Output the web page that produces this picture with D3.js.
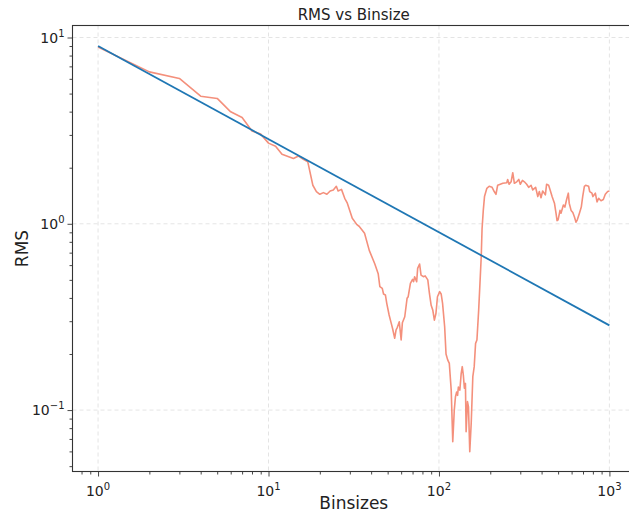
<!DOCTYPE html>
<html>
<head>
<meta charset="utf-8">
<script src="https://cdn.jsdelivr.net/npm/d3@7"></script>
<style>
  body { margin: 0; background: #fff; }
  svg { font-family: "DejaVu Sans", sans-serif; }
</style>
</head>
<body>
<svg id="chart" width="629" height="516"></svg>
<script>
// fitted power law, only its two end points
var fitX = [1, 1000];
var fitY = [9.0, 0.285];

var binX = [1, 2, 3, 4, 5, 6, 7, 8, 9, 10, 11, 12, 14, 15, 16, 17, 18.2, 19.1, 20, 21, 22, 23, 24, 25, 25.6, 26.8, 28, 29, 31, 33, 34, 36.6, 39, 42, 44, 45, 46.5, 47.3, 48.5, 49.4, 51, 52.5, 53.4, 55, 56, 57, 58.5, 60, 61, 63, 65, 66, 68, 70, 71, 72, 74, 75, 77, 78.5, 81, 83, 86, 88, 90, 92, 94, 96, 98, 101, 103, 105, 108, 110, 112.5, 115, 118, 120.5, 123, 125, 127, 128.6, 130, 132.6, 135, 137, 139, 141, 143, 144.3, 147, 149, 151.6, 154.6, 158, 161, 164, 167, 171, 174, 177, 179, 182, 185, 191, 197, 205, 211, 216, 221, 229, 237, 250, 253, 258, 265, 271, 277, 286, 294, 300, 309, 317, 327, 336, 347, 355, 369, 380, 388, 397, 406, 421, 428, 440, 449, 461, 476, 486, 493, 500, 513, 520, 537, 548, 561, 574, 581, 596, 610, 623, 637, 648, 667, 684, 697, 713, 725, 755, 766, 790, 800, 827, 846, 865, 893, 921, 946, 977, 1000];
var binY = [8.9, 6.54, 6.03, 4.84, 4.71, 3.99, 3.72, 3.15, 3.03, 2.71, 2.61, 2.36, 2.24, 2.31, 2.22, 2.15, 1.61, 1.49, 1.44, 1.47, 1.44, 1.50, 1.52, 1.59, 1.50, 1.53, 1.37, 1.29, 1.07, 0.99, 0.97, 0.89, 0.72, 0.61, 0.54, 0.46, 0.45, 0.42, 0.415, 0.374, 0.324, 0.292, 0.275, 0.243, 0.269, 0.278, 0.298, 0.238, 0.294, 0.317, 0.398, 0.406, 0.479, 0.503, 0.489, 0.52, 0.489, 0.576, 0.608, 0.53, 0.52, 0.525, 0.5, 0.42, 0.365, 0.344, 0.304, 0.33, 0.406, 0.432, 0.42, 0.374, 0.28, 0.2, 0.186, 0.178, 0.128, 0.0677, 0.1, 0.118, 0.125, 0.12, 0.133, 0.128, 0.157, 0.171, 0.154, 0.131, 0.139, 0.0766, 0.111, 0.104, 0.0598, 0.085, 0.151, 0.171, 0.228, 0.238, 0.344, 0.479, 0.665, 0.94, 1.18, 1.40, 1.55, 1.59, 1.57, 1.49, 1.44, 1.61, 1.63, 1.65, 1.66, 1.73, 1.63, 1.68, 1.88, 1.65, 1.68, 1.73, 1.63, 1.71, 1.68, 1.63, 1.57, 1.61, 1.52, 1.57, 1.40, 1.49, 1.38, 1.50, 1.43, 1.63, 1.61, 1.52, 1.40, 1.29, 1.14, 1.04, 1.05, 1.18, 1.14, 1.26, 1.23, 1.35, 1.46, 1.29, 1.18, 1.15, 1.09, 1.02, 1.05, 1.14, 1.23, 1.40, 1.59, 1.61, 1.59, 1.49, 1.46, 1.40, 1.46, 1.31, 1.37, 1.33, 1.35, 1.44, 1.49, 1.50];

var xTicks = [1, 10, 100, 1000];
var yTicks = [0.1, 1, 10];
var xTickExp = ["0", "1", "2", "3"];
var yTickExp = ["\u22121", "0", "1"];

var svg = d3.select('#chart');
var margin = {left: 72.5, top: 25.5, right: 635, bottom: 471.5};

var x = d3.scaleLog().domain([0.708, 1413]).range([margin.left, margin.right]);
var y = d3.scaleLog().domain([0.0468, 11.6]).range([margin.bottom, margin.top]);

var clipper = svg.append('clipPath').attr('id', 'plotclip')
  .append('rect').attr('x', margin.left).attr('y', margin.top)
  .attr('width', margin.right - margin.left).attr('height', margin.bottom - margin.top);

// grid
var grid = svg.append('g');
grid.selectAll('.gx').data(xTicks).enter().append('line')
  .attr('x1', function(d){return x(d)}).attr('x2', function(d){return x(d)})
  .attr('y1', margin.top).attr('y2', margin.bottom)
  .attr('stroke', '#dddddd').attr('stroke-width', 0.8).attr('stroke-dasharray', '4,3');
grid.selectAll('.gy').data(yTicks).enter().append('line')
  .attr('y1', function(d){return y(d)}).attr('y2', function(d){return y(d)})
  .attr('x1', margin.left).attr('x2', margin.right)
  .attr('stroke', '#dddddd').attr('stroke-width', 0.8).attr('stroke-dasharray', '4,3');

var plot = svg.append('g').attr('clip-path', 'url(#plotclip)');

var line = d3.line().x(function(d){return x(d[0])}).y(function(d){return y(d[1])});

plot.append('path').datum(d3.zip(binX, binY))
  .attr('d', line).attr('fill', 'none')
  .attr('stroke', '#f4907c').attr('stroke-width', 1.6).attr('stroke-linejoin', 'round');

plot.append('path').datum(d3.zip(fitX, fitY))
  .attr('d', line).attr('fill', 'none')
  .attr('stroke', '#1f77b4').attr('stroke-width', 1.8);

// axes
var xAxis = d3.axisBottom(x).tickValues(xTicks).tickFormat('').tickSize(5);
var xMinor = [];
var yMinor = [];
[0.1, 1, 10, 100, 1000].forEach(function(dec){
  for (var k = 2; k <= 9; k++) {
    if (dec * k > 0.708 && dec * k < 1413) xMinor.push(dec * k);
  }
});
[0.01, 0.1, 1, 10].forEach(function(dec){
  for (var k = 2; k <= 9; k++) {
    if (dec * k > 0.0468 && dec * k < 11.6) yMinor.push(dec * k);
  }
});

var gx = svg.append('g').attr('transform', 'translate(0,' + margin.bottom + ')').call(xAxis);
svg.append('g').attr('transform', 'translate(0,' + margin.bottom + ')')
  .call(d3.axisBottom(x).tickValues(xMinor).tickFormat('').tickSize(3));
var gy = svg.append('g').attr('transform', 'translate(' + margin.left + ',0)')
  .call(d3.axisLeft(y).tickValues(yTicks).tickFormat('').tickSize(5));
svg.append('g').attr('transform', 'translate(' + margin.left + ',0)')
  .call(d3.axisLeft(y).tickValues(yMinor).tickFormat('').tickSize(3));

svg.selectAll('.domain').remove();
svg.selectAll('.tick line').attr('stroke', '#333').attr('stroke-width', 0.9);

// frame
svg.append('rect').attr('x', margin.left).attr('y', margin.top)
  .attr('width', margin.right - margin.left).attr('height', margin.bottom - margin.top)
  .attr('fill', 'none').attr('stroke', '#333').attr('stroke-width', 1.1);

// tick labels
var xl = svg.append('g').selectAll('text').data(xTicks).enter().append('text')
  .attr('x', function(d){return x(d)}).attr('y', margin.bottom + 24)
  .attr('text-anchor', 'middle').attr('font-size', 14).attr('fill', '#222');
xl.append('tspan').text('10');
xl.append('tspan').attr('dy', -6).attr('font-size', 10).text(function(d, i){return xTickExp[i]});

var yl = svg.append('g').selectAll('text').data(yTicks).enter().append('text')
  .attr('x', margin.left - 8).attr('y', function(d){return y(d) + 5})
  .attr('text-anchor', 'end').attr('font-size', 14).attr('fill', '#222');
yl.append('tspan').text('10');
yl.append('tspan').attr('dy', -6).attr('font-size', 10).text(function(d, i){return yTickExp[i]});

// titles
svg.append('text').attr('x', (margin.left + margin.right) / 2).attr('y', 20)
  .attr('text-anchor', 'middle').attr('font-size', 15).attr('fill', '#222').text('RMS vs Binsize');
svg.append('text').attr('x', (margin.left + margin.right) / 2).attr('y', 509)
  .attr('text-anchor', 'middle').attr('font-size', 17).attr('fill', '#222').text('Binsizes');
svg.append('text').attr('transform', 'translate(28,' + ((margin.top + margin.bottom) / 2) + ') rotate(-90)')
  .attr('text-anchor', 'middle').attr('font-size', 17).attr('fill', '#222').text('RMS');
</script>
</body>
</html>
